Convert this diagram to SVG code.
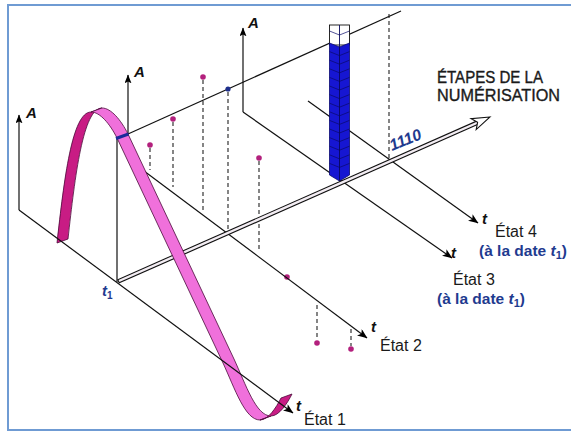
<svg xmlns="http://www.w3.org/2000/svg" width="571" height="432" viewBox="0 0 571 432">
<style>
.ax{stroke:#111;stroke-width:1.2;fill:none}
.dash{stroke:#222;stroke-width:1.1;stroke-dasharray:4 3;fill:none}
.dot{fill:#b3207d}
.lblA{font-family:"Liberation Sans",Arial,sans-serif;font-weight:bold;font-style:italic;font-size:15px;fill:#111}
.lblT{font-family:"Liberation Sans",Arial,sans-serif;font-weight:bold;font-style:italic;font-size:15px;fill:#111}
.etat{font-family:"Liberation Sans",Arial,sans-serif;font-size:16px;fill:#1a1a1a}
.blue{font-family:"Liberation Sans",Arial,sans-serif;font-weight:bold;font-size:15.5px;fill:#1f3b8f}
.head{font-family:"Liberation Sans",Arial,sans-serif;font-size:16px;fill:#1a1a1a;stroke:#1a1a1a;stroke-width:0.35}
.rib{stroke:#4a0a3a;stroke-width:0.8;stroke-linejoin:round}
.cell{stroke:#08086a;stroke-width:0.7;fill:none}
</style>
<defs>
<marker id="ah" viewBox="0 0 10 8" refX="9.5" refY="4" markerWidth="10" markerHeight="8" markerUnits="userSpaceOnUse" orient="auto"><path d="M0,0 L10,4 L0,8 L2.5,4 Z" fill="#000"/></marker>
<marker id="ahA" viewBox="0 0 10 8" refX="9.5" refY="4" markerWidth="9" markerHeight="7" markerUnits="userSpaceOnUse" orient="auto"><path d="M0,0 L10,4 L0,8 L2,4 Z" fill="#000"/></marker>
</defs>
<rect x="8" y="5" width="566" height="425" fill="#fff" stroke="#6f9bd3" stroke-width="2"/>

<g id="connectors">
  <line class="ax" x1="243" y1="112" x2="243" y2="28" marker-end="url(#ahA)"/>
  <line class="ax" x1="243" y1="112" x2="452" y2="258" marker-end="url(#ah)"/>
  <line class="ax" x1="308" y1="101" x2="478" y2="223" marker-end="url(#ah)"/>
  <line class="ax" x1="128" y1="134" x2="401" y2="11"/>
</g>

<g id="column">
  <rect x="329.5" y="25" width="20" height="20" fill="#fff" stroke="#111" stroke-width="0.9"/>
  <path class="cell" d="M329.5,31 L339.5,35 L349.5,31"/>
  <polygon points="329.5,43 339.5,47 349.5,43 349.5,175 339.5,181 329.5,175" fill="#1616d2" stroke="#0a0a70" stroke-width="0.8"/>
  <path class="cell" d="M329.5,51.6 L339.5,55.6 L349.5,51.6 M329.5,60.2 L339.5,64.2 L349.5,60.2 M329.5,68.8 L339.5,72.8 L349.5,68.8 M329.5,77.4 L339.5,81.4 L349.5,77.4 M329.5,86 L339.5,90 L349.5,86 M329.5,94.6 L339.5,98.6 L349.5,94.6 M329.5,103.2 L339.5,107.2 L349.5,103.2 M329.5,111.8 L339.5,115.8 L349.5,111.8 M329.5,120.4 L339.5,124.4 L349.5,120.4 M329.5,129 L339.5,133 L349.5,129 M329.5,137.6 L339.5,141.6 L349.5,137.6 M329.5,146.2 L339.5,150.2 L349.5,146.2 M329.5,154.8 L339.5,158.8 L349.5,154.8 M329.5,163.4 L339.5,167.4 L349.5,163.4"/>
  <line x1="339.5" y1="25" x2="339.5" y2="181" stroke="#08085a" stroke-width="0.9"/>
</g>

<g id="samples">
  <line class="dash" x1="150" y1="148" x2="150" y2="170"/>
  <line class="dash" x1="173" y1="122" x2="173" y2="187"/>
  <line class="dash" x1="203" y1="80" x2="203" y2="210"/>
  <line class="dash" x1="228" y1="92" x2="228" y2="229"/>
  <line class="dash" x1="259" y1="161" x2="259" y2="252"/>
  <line class="dash" x1="317" y1="305" x2="317" y2="340"/>
  <line class="dash" x1="351" y1="329" x2="351" y2="346"/>
  <line class="dash" x1="389" y1="14" x2="389" y2="158"/>
  <circle class="dot" cx="150" cy="145" r="2.8"/>
  <circle class="dot" cx="173" cy="119" r="2.8"/>
  <circle class="dot" cx="203" cy="77" r="2.8"/>
  <circle cx="228" cy="89" r="2.6" fill="#1d2f8c"/>
  <circle class="dot" cx="259" cy="158" r="2.8"/>
  <circle class="dot" cx="287" cy="277" r="2.8"/>
  <circle class="dot" cx="317" cy="343" r="2.8"/>
  <circle class="dot" cx="351" cy="349" r="2.8"/>
</g>

<g id="state2">
  <line class="ax" x1="128" y1="159" x2="128" y2="75" marker-end="url(#ahA)"/>
  <line class="ax" x1="128" y1="159" x2="367" y2="338" marker-end="url(#ah)"/>
</g>

<g id="digitization-axis">
  <line x1="118" y1="281.5" x2="478.5" y2="122.2" stroke="#111" stroke-width="4.6"/>
  <line x1="119" y1="281" x2="479" y2="122" stroke="#f3edf3" stroke-width="2.4"/>
  <polygon points="490,117 471,118.6 477.6,122.3 476.2,129.6" fill="#fff" stroke="#111" stroke-width="1.1" stroke-linejoin="miter"/>
</g>

<g id="t1-line">
  <line class="ax" x1="117" y1="282" x2="117" y2="136"/>
</g>

<g id="ribbon">
  <path class="rib" fill="#c81c84" d="M57,243 C64,180 72,112 91,112 L102,108 C83,108 75,176 68,239 Z"/>
  <path class="rib" fill="#f070db" d="M91,112 C100,112 110,124 117,138 L223,363 C235,389 245,420 260,420 L271,416 C256,416 246,385 234,359 L128,134 C121,120 111,108 102,108 Z"/>
  <path class="rib" fill="#c81c84" d="M260,420 C268,420 276,408 281,398 L292,394 C287,404 279,416 271,416 Z"/>
  <line x1="116" y1="138.5" x2="128.5" y2="134" stroke="#1a2a9a" stroke-width="3"/>
</g>

<g id="state1">
  <line class="ax" x1="19" y1="210" x2="19" y2="115" marker-end="url(#ahA)"/>
  <line class="ax" x1="19" y1="210" x2="293" y2="413" marker-end="url(#ah)"/>
</g>

<g id="labels">
  <text class="lblA" x="26" y="118">A</text>
  <text class="lblA" x="134" y="77">A</text>
  <text class="lblA" x="248" y="28">A</text>
  <text class="lblT" x="296" y="411">t</text>
  <text class="lblT" x="371" y="332">t</text>
  <text class="lblT" x="451" y="258">t</text>
  <text class="lblT" x="482" y="224">t</text>
  <text class="etat" x="304" y="425">État 1</text>
  <text class="etat" x="380" y="351">État 2</text>
  <text class="etat" x="453" y="285">État 3</text>
  <text class="blue" x="437" y="304">(à la date <tspan font-style="italic">t</tspan><tspan font-size="11" dy="3">1</tspan><tspan dy="-3">)</tspan></text>
  <text class="etat" x="495" y="237">État 4</text>
  <text class="blue" x="479" y="256">(à la date <tspan font-style="italic">t</tspan><tspan font-size="11" dy="3">1</tspan><tspan dy="-3">)</tspan></text>
  <text class="head" x="437" y="83" textLength="106" lengthAdjust="spacingAndGlyphs">ÉTAPES DE LA</text>
  <text class="head" x="437" y="101" textLength="123" lengthAdjust="spacingAndGlyphs">NUMÉRISATION</text>
  <text x="392" y="151" transform="rotate(-22 392 151)" font-family="Liberation Sans, Arial, sans-serif" font-weight="bold" font-style="italic" font-size="16" fill="#1f3b8f">1110</text>
  <text x="102" y="296" font-family="Liberation Sans, Arial, sans-serif" font-weight="bold" font-style="italic" font-size="15" fill="#1f3b8f">t<tspan font-size="10" dy="3" font-style="normal">1</tspan></text>
</g>
</svg>
